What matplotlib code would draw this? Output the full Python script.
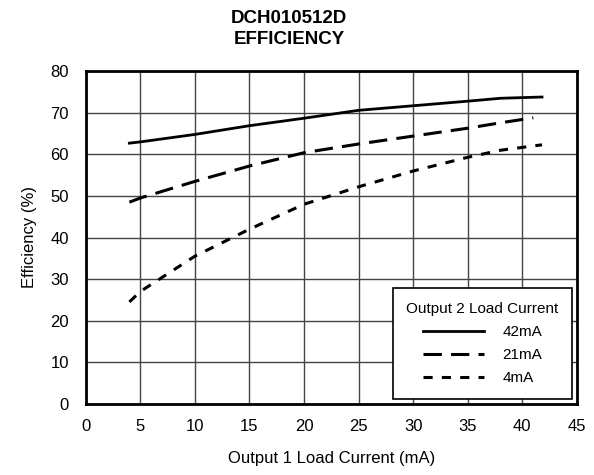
import matplotlib
matplotlib.use("Agg")
import matplotlib.pyplot as plt

plt.rcParams['font.family'] = ['Liberation Sans', 'DejaVu Sans']

# Output 1 load current (mA) and efficiency (%) for each Output 2 load
x_42 = [4, 5, 10, 15, 20, 25, 30, 35, 38, 41.8]
eff_42 = [62.7, 63.0, 64.8, 66.9, 68.7, 70.6, 71.7, 72.8, 73.5, 73.8]

x_21 = [4, 5, 10, 15, 20, 25, 30, 35, 38, 41]
eff_21 = [48.5, 49.5, 53.5, 57.2, 60.4, 62.5, 64.4, 66.3, 67.6, 68.8]

x_4 = [4, 5, 10, 15, 20, 25, 30, 35, 38, 41.8]
eff_4 = [24.5, 27.0, 35.5, 42.0, 48.0, 52.2, 56.0, 59.3, 61.0, 62.3]

fig = plt.figure(figsize=(5.94, 4.75), dpi=100)
ax = fig.add_axes([0.1443, 0.150, 0.827, 0.700])

ax.plot(x_42, eff_42, color='black', lw=2, label='42mA')
ax.plot(x_21, eff_21, color='black', lw=2.2, dashes=(6, 3), label='21mA')
ax.plot(x_4, eff_4, color='black', lw=2.2, dashes=(3, 3), label='4mA')

ax.set_xlim(0, 45)
ax.set_ylim(0, 80)
ax.set_xticks(range(0, 46, 5))
ax.set_yticks(range(0, 81, 10))
ax.grid(True, color='#444444', lw=1)
ax.tick_params(length=0, labelsize=12)
ax.tick_params(axis='y', pad=12)
ax.tick_params(axis='x', pad=11)
for s in ax.spines.values():
    s.set_linewidth(2)

ax.set_xlabel('Output 1 Load Current (mA)', fontsize=12, labelpad=12)
ax.set_ylabel('Efficiency (%)', fontsize=12, labelpad=10)
fig.suptitle('DCH010512D\nEFFICIENCY', x=0.487, y=0.978, fontsize=13.5,
             fontweight='bold', linespacing=1.3, va='top')

leg = ax.legend(title='Output 2 Load Current', loc='lower right', fancybox=False,
                edgecolor='black', framealpha=1, fontsize=11, title_fontsize=11,
                handlelength=4.0, handletextpad=1.2, borderaxespad=0.3,
                borderpad=0.9, labelspacing=0.6)
leg.get_frame().set_linewidth(1.2)

fig.savefig('out.png', dpi=100)
